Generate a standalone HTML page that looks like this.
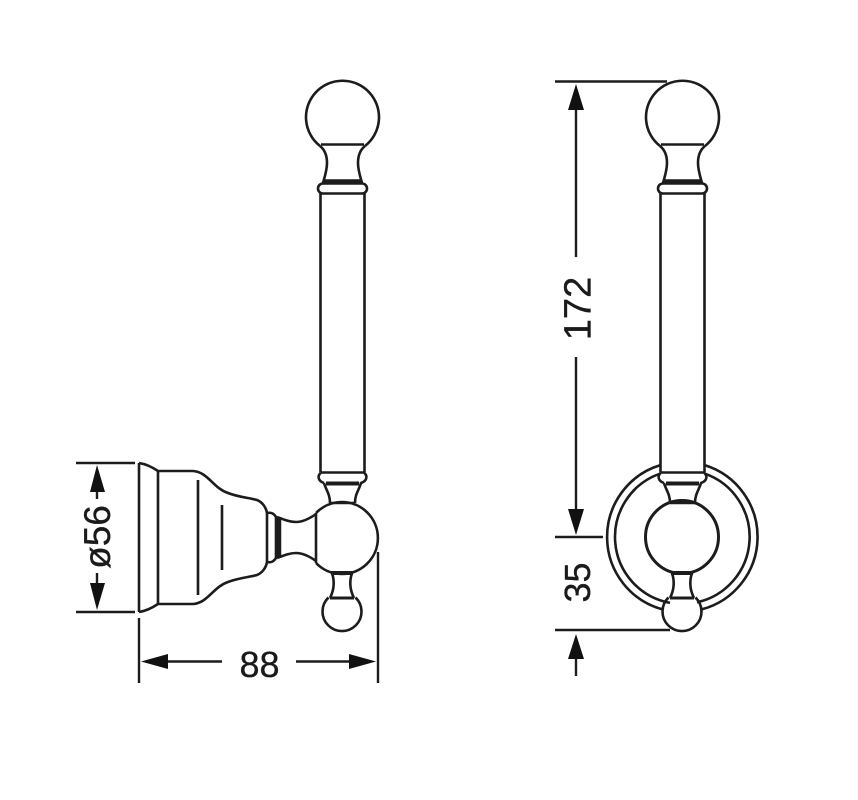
<!DOCTYPE html>
<html><head><meta charset="utf-8"><style>
html,body{margin:0;padding:0;background:#fff}
svg{display:block}
text{font-family:"Liberation Sans",sans-serif;fill:#1a1a1a;stroke:#1a1a1a;stroke-width:.35}
</style></head><body>
<svg width="858" height="800" viewBox="0 0 858 800" xmlns="http://www.w3.org/2000/svg">
<defs>
<g id="post" fill="none" stroke="#1c1c1c" stroke-width="2.6">
  <path d="M320 146 A36.500 36.500 0 1 1 365 146"/>
  <path d="M321 144.500H364"/>
  <path d="M320 146 C325 150 327 156 327 163 C327 170 325 176 323 183 M365 146 C360 150 358 156 358 163 C358 170 360 176 362 183"/>
  <path d="M324 181.500H361" stroke-width="4.500"/>
  <rect x="318" y="183.500" width="49" height="10" rx="5"/>
  <path d="M320.500 193V472M364.500 193V472"/>
  <!-- lower collar and neck -->
  <path d="M321 472.500H364 C368 476 367 481 361 483 C359 490 355 494 355 503 M324 483 C326 490 330 494 330 503 M321 472.500 C317 476 318 481 324 483"/>
  <path d="M326 483.500H359" stroke-width="4"/>
  <path d="M330 503H355"/>
  <path d="M331 573H353" stroke-width="4"/>
  <path d="M332 573 C335 582 334 590 330 598 M352 573 C349 582 350 590 354 598"/>
  <path d="M330 598H354" stroke-width="3"/>
  <path d="M328.500 597.500 A19.500 19.500 0 1 0 355.500 597.500"/>
</g>
</defs>
<use href="#post"/>
<use href="#post" x="340"/>

<g fill="none" stroke="#1c1c1c" stroke-width="2.6">
  <!-- left view ball -->
  <path d="M316 513 A36 36 0 1 1 316 563"/>
  <path d="M316 513V563"/>
  <!-- plate -->
  <path d="M139 463V612"/>
  <path d="M139 463 C146 464 152 467 158 471H193 C208 472 213 488 228 493 C238 497 250 498 257 500 C262 502 266 507 267 513V562 C266 568 262 573 257 575 C250 577 238 578 228 582 C213 587 208 603 193 604H158 C152 608 146 611 139 612"/>
  <path d="M158 471V604M198 480V595M222 505V570"/>
  <path d="M267 513 C272 512 274 514 276 517V558 C274 561 272 563 267 562"/>
  <path d="M279 517V558" stroke-width="4.500"/>
  <path d="M277 517 C285 520 290 522 296 522 C303 522 309 519 316 514M277 558 C285 555 290 553 296 553 C303 553 309 556 316 561"/>

  <!-- right view rings and ball -->
  <path d="M660 465.300 A75 75 0 0 0 663 609.500 M705 465.300 A75 75 0 0 1 702 609.300"/>
  <path d="M660 473.700 A67 67 0 0 0 670 602.900 M705 473.700 A67 67 0 0 1 697 602.300"/>
  <circle cx="682" cy="537" r="36.500" stroke-width="3"/>
</g>

<g fill="none" stroke="#1c1c1c" stroke-width="2.400">
  <path d="M76 463H135M76 612H135M97 490V499M97 573V585"/>
  <path d="M139 618V683M378 552V683M165 661.500H222M296 661.500H352"/>
  <path d="M555 81.500H667M555 537H603M555 630H670"/>
  <path d="M576 108V257M576 357V510M576 656V676"/>
</g>
<g fill="#111">
  <path d="M97 465L105 492H90Z"/>
  <path d="M97 610L105 583H90Z"/>
  <path d="M141 661.500L168 654V669Z"/>
  <path d="M376 661.500L349 654V669Z"/>
  <path d="M576 84L584 110H568Z"/>
  <path d="M576 535L584 509H568Z"/>
  <path d="M576 634L584 659H568Z"/>
</g>

<text x="259.500" y="677" font-size="36" text-anchor="middle">88</text>
<text transform="translate(110 537) rotate(-90)" font-size="37" text-anchor="middle">ø56</text>
<text transform="translate(590.500 308.500) rotate(-90)" font-size="38" text-anchor="middle">172</text>
<text transform="translate(590 582.500) rotate(-90)" font-size="36" text-anchor="middle">35</text>
</svg>
</body></html>
